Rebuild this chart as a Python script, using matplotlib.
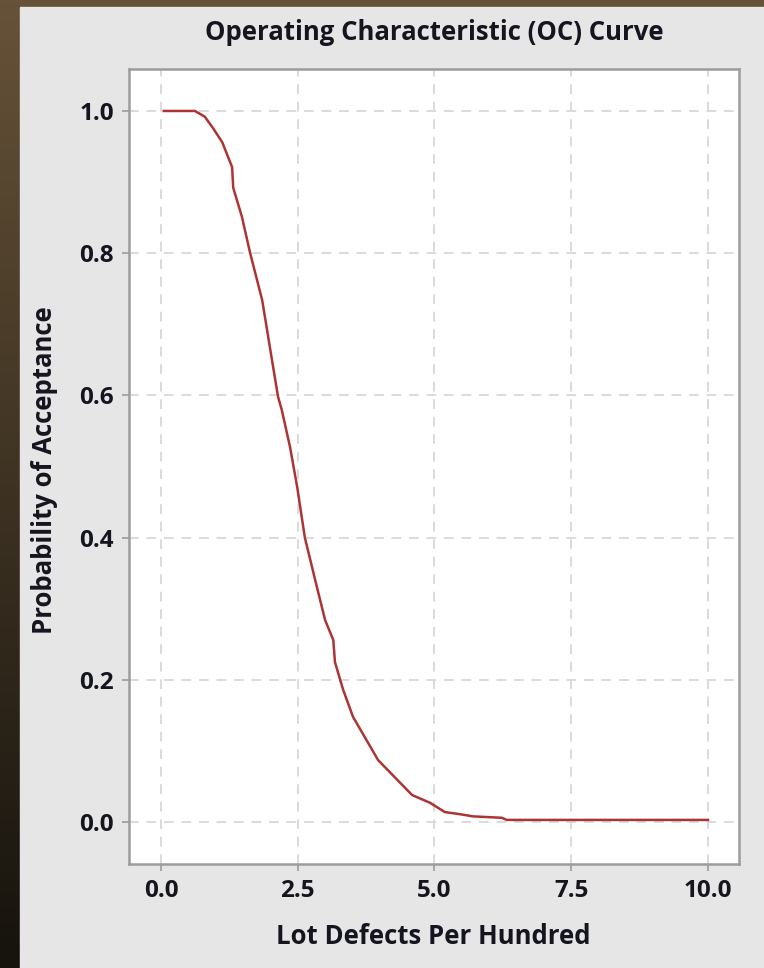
import numpy as np
import matplotlib
matplotlib.use("Agg")
import matplotlib.pyplot as plt
from matplotlib.patches import Rectangle

# values (lot defects per hundred vs. P(accept))
defects = [0.05, 0.62, 0.80, 0.95, 1.12, 1.30, 1.32, 1.48, 1.63, 1.85, 1.99,
           2.14, 2.21, 2.36, 2.49, 2.63, 2.82, 3.00, 3.15, 3.18, 3.33, 3.51,
           3.97, 4.59, 4.92, 5.19, 5.47, 5.70, 6.23, 6.32, 10.0]
p_accept = [1.0, 1.0, 0.992, 0.976, 0.956, 0.921, 0.892, 0.851, 0.800, 0.734,
            0.668, 0.598, 0.579, 0.527, 0.471, 0.400, 0.340, 0.284, 0.256,
            0.225, 0.186, 0.148, 0.087, 0.038, 0.027, 0.014, 0.011, 0.008,
            0.006, 0.003, 0.003]
xticks = [0.0, 2.5, 5.0, 7.5, 10.0]
yticks = [0.0, 0.2, 0.4, 0.6, 0.8, 1.0]

plt.rcParams['font.family'] = ['Open Sans', 'DejaVu Sans']
txt = '#15151f'

fig = plt.figure(figsize=(7.64, 9.68), dpi=100)

# screenshot frame: brown gradient behind a light gray panel
bg = fig.add_axes([0, 0, 1, 1], zorder=-2)
grad = np.linspace(0, 1, 256).reshape(-1, 1)
bg.imshow(grad, aspect='auto', extent=[0, 1, 0, 1],
          cmap=matplotlib.colors.LinearSegmentedColormap.from_list('b', ['#665238', '#16130d']))
bg.add_patch(Rectangle((20 / 764, 0), 1, 1 - 7 / 968, color='#e6e6e6', zorder=2))
bg.set_xlim(0, 1)
bg.set_ylim(0, 1)
bg.axis('off')

ax = fig.add_axes([129 / 764, 1 - 864 / 968, 610 / 764, 795 / 968])
ax.set_facecolor('white')
ax.plot(defects, p_accept, color='#ad3434', lw=1.8, zorder=3)

ax.set_xlim(-0.585, 10.567)
ax.set_ylim(-0.059, 1.059)
ax.set_xticks(xticks)
ax.set_yticks(yticks)
ax.set_xticklabels([f'{t:.1f}' for t in xticks])
ax.set_yticklabels([f'{t:.1f}' for t in yticks])
ax.grid(True, color='#dadada', lw=1.4, ls=(0, (5, 4)))
ax.set_axisbelow(True)
for s in ax.spines.values():
    s.set_color('#9c9c9c')
    s.set_linewidth(1.8)
ax.tick_params(colors='#9c9c9c', length=5, width=1.2, labelcolor=txt, labelsize=17.5, pad=6)
for lab in ax.get_xticklabels() + ax.get_yticklabels():
    lab.set_fontweight('bold')

fig.text(434 / 764, 1 - 32 / 968, 'Operating Characteristic (OC) Curve', ha='center', va='center',
         fontsize=18.5, fontweight='bold', color=txt)
fig.text(433 / 764, 1 - 937 / 968, 'Lot Defects Per Hundred', ha='center', va='center',
         fontsize=18.5, fontweight='bold', color=txt)
fig.text(45 / 764, 1 - 470 / 968, 'Probability of Acceptance', ha='center', va='center',
         rotation=90, fontsize=18.5, fontweight='bold', color=txt)

fig.savefig('out.png', dpi=100)
